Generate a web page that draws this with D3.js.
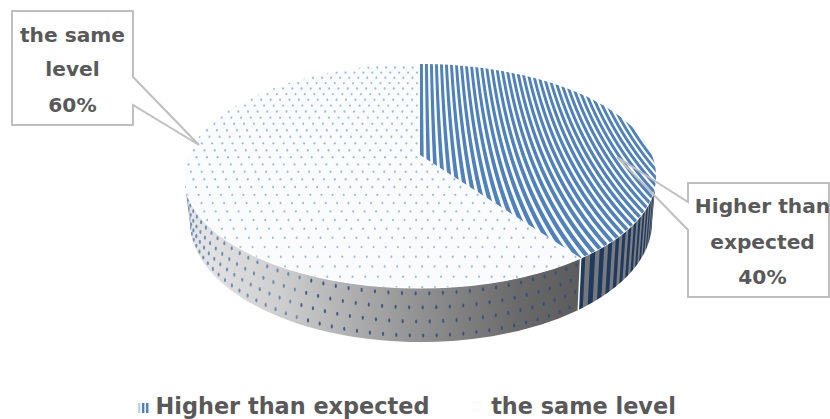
<!DOCTYPE html>
<html><head><meta charset="utf-8">
<script src="https://cdn.jsdelivr.net/npm/d3@7/dist/d3.min.js"></script>
<style>html,body{margin:0;padding:0;background:#fff}svg{display:block}text{font-family:"DejaVu Sans",sans-serif;font-weight:700;fill:#595959;text-anchor:middle}</style>
</head><body><script>
const categories = ["Higher than expected", "the same level"];
const values = [40, 60];
const labelLines = [["Higher than", "expected", "40%"], ["the same", "level", "60%"]];

const W = 830, H = 419;
const svg = d3.select("body").append("svg").attr("width", W).attr("height", H);
const defs = svg.append("defs");
const persp = -0.1875;
const topPlane = {cx: 420, s: 231.9, a: 155, b: 79};
const botPlane = {cx: 421, s: 227, a: 199.5, b: 78.4};
const proj = (X, u, p) => { const w = 1 + persp * u; return [p.cx + p.s * X / w, (p.a + p.b * u) / w]; };
const polar = (t, p) => proj(Math.sin(t), -Math.cos(t), p);
const line = d3.line();
const arcs = d3.pie().sort(null).value(d => d).startAngle(0).endAngle(2 * Math.PI)(values);
const rim = (a0, a1, p) => d3.range(0, 61).map(i => polar(a0 + (a1 - a0) * i / 60, p));

const edgeR = Math.acos(persp), edgeL = 2 * Math.PI - edgeR;
const sep = arcs[0].endAngle;

const grad = defs.append("linearGradient").attr("id", "wallG").attr("gradientUnits", "userSpaceOnUse")
  .attr("x1", 184).attr("x2", 660).attr("y1", 0).attr("y2", 0);
[[0, "#e8e8e8"], [.2, "#cfcfcf"], [.47, "#969696"], [.7, "#6a6a6a"], [.83, "#5c5c5c"], [.84, "#767676"], [1, "#838383"]]
  .forEach(([o, c]) => grad.append("stop").attr("offset", o).attr("stop-color", c));

const wallPath = (a0, a1) => line(rim(a0, a1, topPlane).concat(rim(a1, a0, botPlane))) + "Z";
const walls = [[edgeR, sep], [sep, edgeL]];
walls.forEach((w, i) => defs.append("clipPath").attr("id", "wc" + i).append("path").attr("d", wallPath(w[0], w[1])));
svg.append("g").selectAll("path").data(walls).join("path")
  .attr("d", d => wallPath(d[0], d[1])).attr("fill", "url(#wallG)");

// wall stripes: pitch narrows toward the right silhouette
const stripeAngles = [];
for (let t = sep + 0.005; t > edgeR - 0.02;) {
  const x = polar(t, topPlane)[0];
  const pitch = 12 - 7 * Math.min(1, (x - 581) / 70);
  const rate = Math.max(45, Math.abs(topPlane.s * Math.cos(t)) / (1 + persp * -Math.cos(t)));
  stripeAngles.push([t, pitch * 0.52 / rate]);
  t -= pitch / rate;
}
svg.append("g").attr("clip-path", "url(#wc0)").selectAll("path").data(stripeAngles).join("path")
  .attr("fill", "#1e3a62")
  .attr("d", ([t, w]) => line([polar(t, topPlane), polar(t - w, topPlane), polar(t - w, botPlane), polar(t, botPlane)]) + "Z");

// wall dots
const wallRows = [0.1, 0.36, 0.62, 0.88];
const wallDots = [];
wallRows.forEach((f, r) => {
  for (let t = sep + 0.02 + (r % 2) * 0.024; t < edgeL; t += 0.048) {
    const a = polar(t, topPlane), b = polar(t, botPlane);
    wallDots.push({x: a[0] + (b[0] - a[0]) * f, y: a[1] + (b[1] - a[1]) * f});
  }
});
svg.append("g").attr("clip-path", "url(#wc1)").selectAll("ellipse").data(wallDots).join("ellipse")
  .attr("cx", d => d.x).attr("cy", d => d.y).attr("rx", 1.1).attr("ry", 2.1)
  .attr("fill", d => d.x < 300 ? "#5a80ae" : "#2b4e80").attr("opacity", .85);

svg.append("path").attr("d", line([polar(sep, topPlane), polar(sep, botPlane)]))
  .attr("stroke", "#fff").attr("stroke-width", 1.5).attr("fill", "none");

// top face
const sectorPath = d => line([proj(0, 0, topPlane)].concat(rim(d.startAngle, d.endAngle, topPlane))) + "Z";
arcs.forEach((d, i) => defs.append("clipPath").attr("id", "tc" + i).append("path").attr("d", sectorPath(d)));
svg.append("g").selectAll("path").data(arcs).join("path").attr("d", sectorPath)
  .attr("fill", (d, i) => i ? "#fafbfd" : "#ffffff").attr("stroke", "#fff").attr("stroke-width", 1.2);

// warped stripe texture: lines fan out faster toward the viewer
const fan = y => { const d = y - 70; return Math.exp(0.002 * d + 0.000008 * d * d); };
const stripeY = d3.range(60, 300, 6);
const stripeK = d3.range(0, 60);
svg.append("g").attr("clip-path", "url(#tc0)").selectAll("path").data(stripeK).join("path")
  .attr("fill", "#4f81bd")
  .attr("d", k => line(stripeY.map(y => [420 + 5.05 * k * fan(y), y])
    .concat(stripeY.slice().reverse().map(y => [420 + 5.05 * (k + 0.58) * fan(y), y]))) + "Z");

const faceDots = [];
d3.range(-1.02, 1.02, 0.065).forEach((u, r) => {
  d3.range(-1.05 + (r % 2) * 0.0225, 1.05, 0.045).forEach(X => {
    const q = proj(X, u, topPlane); faceDots.push({x: q[0], y: q[1]});
  });
});
svg.append("g").attr("clip-path", "url(#tc1)").selectAll("ellipse").data(faceDots).join("ellipse")
  .attr("cx", d => d.x).attr("cy", d => d.y).attr("rx", 1).attr("ry", 1.2)
  .attr("fill", "#7fa5d4").attr("opacity", .75);

// callouts
const callouts = [
  {box: [688, 183, 829, 297], tip: [617, 157], y0: 202, y1: 230, side: "l", cx: 762.5, ys: [213, 249, 284]},
  {box: [12, 11, 133, 125], tip: [199, 145], y0: 77, y1: 105, side: "r", cx: 72.5, ys: [42, 76, 112]}
];
callouts.forEach((c, i) => {
  const [x0, y0, x1, y1] = c.box;
  const pts = c.side === "l"
    ? [[x0, y0], [x1, y0], [x1, y1], [x0, y1], [x0, c.y1], c.tip, [x0, c.y0]]
    : [[x0, y0], [x1, y0], [x1, c.y0], c.tip, [x1, c.y1], [x1, y1], [x0, y1]];
  svg.append("path").attr("d", line(pts) + "Z").attr("fill", "none").attr("stroke", "#bfbfbf").attr("stroke-width", 2);
  svg.append("rect").attr("x", x0 + 1).attr("y", y0 + 1).attr("width", x1 - x0 - 2).attr("height", y1 - y0 - 2).attr("fill", "#fff");
  svg.selectAll(null).data(labelLines[i].map((t, k) => ({t, y: c.ys[k]}))).join("text")
    .attr("x", c.cx).attr("y", d => d.y).attr("font-size", 20.2).text(d => d.t);
});

// legend
const legendX = [292.5, 583.5];
const leg = svg.append("g");
leg.selectAll("text").data(categories).join("text")
  .attr("x", (d, i) => legendX[i]).attr("y", 413.5).attr("font-size", 22.4).text(d => d);
d3.range(0, 3).forEach(k => leg.append("rect").attr("x", 138 + k * 4).attr("y", 403).attr("width", 2.4).attr("height", 10)
  .attr("fill", k === 0 ? "#bcd0e6" : "#4f81bd"));
leg.append("rect").attr("x", 472).attr("y", 401).attr("width", 11).attr("height", 11).attr("fill", "#fcfcfd");
</script></body></html>
